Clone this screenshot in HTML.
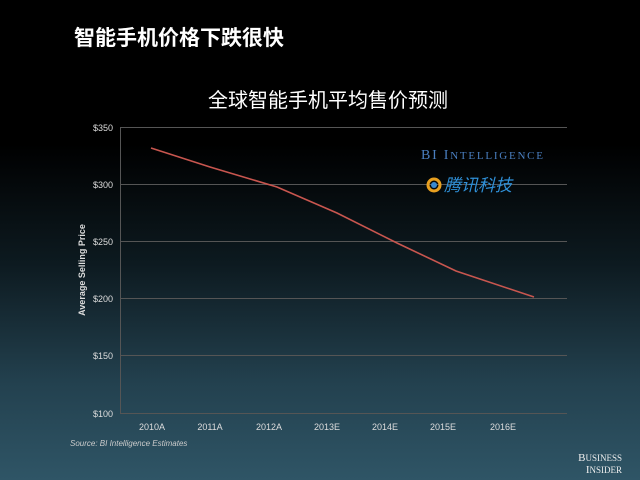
<!DOCTYPE html>
<html><head><meta charset="utf-8"><style>
body{margin:0;width:640px;height:480px;overflow:hidden;background:linear-gradient(to bottom,#000 0%,#000 30%,#0d1a20 55%,#23414f 80%,#2f5566 100%);font-family:"Liberation Sans","Noto Sans CJK SC",sans-serif;}
</style></head><body>
<svg width="640" height="480" xmlns="http://www.w3.org/2000/svg" style="position:absolute;left:0;top:0">
<text x="74" y="45" fill="#fff" font-size="21" font-weight="bold" font-family="Noto Sans CJK SC,sans-serif">智能手机价格下跌很快</text>
<text x="328" y="107" fill="#fff" font-size="20" text-anchor="middle" font-family="Noto Sans CJK SC,sans-serif">全球智能手机平均售价预测</text>
<g stroke="#555" stroke-width="1">
<line x1="120" y1="127.5" x2="567" y2="127.5"/>
<line x1="120" y1="184.5" x2="567" y2="184.5"/>
<line x1="120" y1="241.5" x2="567" y2="241.5"/>
<line x1="120" y1="298.5" x2="567" y2="298.5"/>
<line x1="120" y1="355.5" x2="567" y2="355.5"/>
<line x1="120" y1="413.5" x2="567" y2="413.5"/>
<line x1="120.5" y1="127" x2="120.5" y2="413"/>
</g>
<g fill="#ddd" font-size="9" text-anchor="end">
<text x="113" y="131">$350</text><text x="113" y="188">$300</text><text x="113" y="245">$250</text>
<text x="113" y="302">$200</text><text x="113" y="359">$150</text><text x="113" y="417">$100</text>
</g>
<g fill="#ddd" font-size="9" text-anchor="middle">
<text x="152" y="430">2010A</text><text x="210" y="430">2011A</text><text x="269" y="430">2012A</text>
<text x="327" y="430">2013E</text><text x="385" y="430">2014E</text><text x="443" y="430">2015E</text><text x="503" y="430">2016E</text>
</g>
<text transform="translate(85,270) rotate(-90)" fill="#ddd" font-size="9" font-weight="bold" text-anchor="middle">Average Selling Price</text>
<polyline fill="none" stroke="#c8564f" stroke-width="1.6" points="151,148 210,167 277,187 337,213 397,243 456,271 534,297"/>
<text x="421" y="159" fill="#4a7fc0" font-size="14" font-family="Liberation Serif,serif" textLength="122" lengthAdjust="spacing">BI I<tspan font-size="11">NTELLIGENCE</tspan></text>
<circle cx="434" cy="185" r="6" fill="none" stroke="#e8a020" stroke-width="3"/>
<circle cx="434" cy="185" r="3" fill="#3a8ad0"/>
<text x="444" y="191" fill="#2f90d8" font-size="17" font-style="italic" font-family="Noto Sans CJK SC,sans-serif">腾讯科技</text>
<text x="70" y="446" fill="#ccc" font-size="8" font-style="italic">Source: BI Intelligence Estimates</text>
<text x="622" y="461" fill="#eee" font-size="11" text-anchor="end" font-family="Liberation Serif,serif">B<tspan font-size="9">USINESS</tspan></text>
<text x="622" y="473" fill="#eee" font-size="11" text-anchor="end" font-family="Liberation Serif,serif">I<tspan font-size="9">NSIDER</tspan></text>
</svg>
</body></html>
